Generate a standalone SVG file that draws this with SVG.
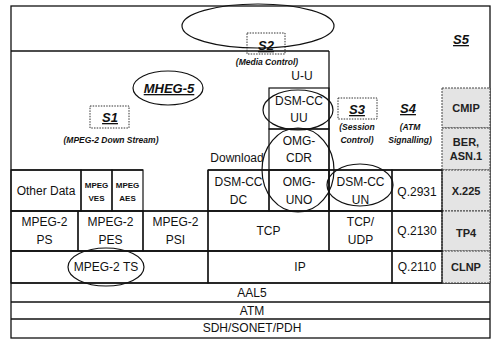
<svg xmlns="http://www.w3.org/2000/svg" width="494" height="347" viewBox="0 0 494 347">
<style>
.ln{stroke:#111;stroke-width:1.3;fill:none}
.box{stroke:#111;stroke-width:1.2;fill:none}
.ell{stroke:#111;stroke-width:1.2;fill:none}
.dash{stroke:#333;stroke-width:1;stroke-dasharray:1.5 1.2;fill:none}
.gray{fill:#e4e4e4;stroke:#444;stroke-width:1;stroke-dasharray:2 1}
.t{font-family:"Liberation Sans",Arial,sans-serif;font-size:12px;fill:#111;text-anchor:middle}
.ts{font-family:"Liberation Sans",Arial,sans-serif;font-size:8px;font-weight:bold;fill:#111;text-anchor:middle}
.tg{font-family:"Liberation Sans",Arial,sans-serif;font-size:11px;font-weight:bold;fill:#222;text-anchor:middle}
.s{font-family:"Liberation Sans",Arial,sans-serif;font-size:13px;font-weight:bold;font-style:italic;fill:#111;text-anchor:middle;text-decoration:underline}
.si{font-family:"Liberation Sans",Arial,sans-serif;font-size:8.5px;font-weight:bold;font-style:italic;fill:#111;text-anchor:middle}
</style>
<rect width="494" height="347" fill="#fff"/>
<g id="frame">
<rect class="ln" x="11" y="6" width="479" height="332"/>
<line class="ln" x1="11" y1="51" x2="329" y2="51"/>
<line class="ln" x1="329" y1="51" x2="329" y2="211"/>
<line class="ln" x1="11" y1="170" x2="143" y2="170"/>
<line class="ln" x1="208" y1="170" x2="442" y2="170"/>
<line class="ln" x1="11" y1="211" x2="442" y2="211"/>
<line class="ln" x1="11" y1="251" x2="442" y2="251"/>
<line class="ln" x1="11" y1="283" x2="490" y2="283"/>
<line class="ln" x1="11" y1="302" x2="490" y2="302"/>
<line class="ln" x1="11" y1="319" x2="490" y2="319"/>
</g>
<g id="gray-column">
<rect class="gray" x="442" y="88" width="48" height="40"/>
<rect class="gray" x="442" y="128" width="48" height="42"/>
<rect class="gray" x="442" y="170" width="48" height="41"/>
<rect class="gray" x="442" y="211" width="48" height="40"/>
<rect class="gray" x="442" y="251" width="48" height="32"/>
<text class="tg" x="466" y="112">CMIP</text>
<text class="tg" x="466" y="146">BER,</text>
<text class="tg" x="466" y="160">ASN.1</text>
<text class="tg" x="466" y="195">X.225</text>
<text class="tg" x="466" y="237">TP4</text>
<text class="tg" x="466" y="271">CLNP</text>
</g>
<g id="other-data"><rect class="box" x="11" y="170" width="70" height="41"/><text class="t" x="46" y="195">Other Data</text></g>
<g id="mpeg-ves"><rect class="box" x="81" y="170" width="31" height="41"/><text class="ts" x="96.5" y="188">MPEG</text><text class="ts" x="96.5" y="201">VES</text></g>
<g id="mpeg-aes"><rect class="box" x="112" y="170" width="31" height="41"/><text class="ts" x="127.5" y="188">MPEG</text><text class="ts" x="127.5" y="201">AES</text></g>
<g id="download"><line class="ln" x1="208" y1="170" x2="208" y2="211"/><text class="t" x="237" y="162">Download</text></g>
<g id="dsmcc-dc"><rect class="box" x="208" y="170" width="61" height="41"/><text class="t" x="238.5" y="186">DSM-CC</text><text class="t" x="238.5" y="204">DC</text></g>
<g id="omg-uno"><rect class="box" x="269" y="170" width="60" height="41"/><text class="t" x="299" y="186">OMG-</text><text class="t" x="299" y="204">UNO</text></g>
<g id="dsmcc-un"><rect class="box" x="329" y="170" width="63" height="41"/><text class="t" x="360.5" y="186">DSM-CC</text><text class="t" x="360.5" y="204">UN</text></g>
<g id="q2931"><rect class="box" x="392" y="170" width="50" height="41"/><text class="t" x="417" y="196">Q.2931</text></g>
<g id="dsmcc-uu"><rect class="box" x="269" y="88" width="60" height="41"/><text class="t" x="299" y="105">DSM-CC</text><text class="t" x="299" y="122">UU</text></g>
<g id="omg-cdr"><rect class="box" x="269" y="129" width="60" height="41"/><text class="t" x="299" y="145">OMG-</text><text class="t" x="299" y="162">CDR</text></g>
<g id="mpeg2-ps"><rect class="box" x="11" y="211" width="67" height="40"/><text class="t" x="44.5" y="226">MPEG-2</text><text class="t" x="44.5" y="244">PS</text></g>
<g id="mpeg2-pes"><rect class="box" x="78" y="211" width="65" height="40"/><text class="t" x="110.5" y="226">MPEG-2</text><text class="t" x="110.5" y="244">PES</text></g>
<g id="mpeg2-psi"><rect class="box" x="143" y="211" width="65" height="40"/><text class="t" x="175.5" y="226">MPEG-2</text><text class="t" x="175.5" y="244">PSI</text></g>
<g id="tcp"><rect class="box" x="208" y="211" width="121" height="40"/><text class="t" x="268.5" y="235">TCP</text></g>
<g id="tcp-udp"><rect class="box" x="329" y="211" width="63" height="40"/><text class="t" x="360.5" y="226">TCP/</text><text class="t" x="360.5" y="244">UDP</text></g>
<g id="q2130"><rect class="box" x="392" y="211" width="50" height="40"/><text class="t" x="417" y="235">Q.2130</text></g>
<g id="mpeg2-ts"><rect class="box" x="11" y="251" width="197" height="32"/><text class="t" x="106" y="271">MPEG-2 TS</text></g>
<g id="ip"><rect class="box" x="208" y="251" width="184" height="32"/><text class="t" x="300" y="271">IP</text></g>
<g id="q2110"><rect class="box" x="392" y="251" width="50" height="32"/><text class="t" x="417" y="271">Q.2110</text></g>
<g id="aal5"><text class="t" x="252" y="297">AAL5</text></g>
<g id="atm"><text class="t" x="252" y="314.5">ATM</text></g>
<g id="sdh"><text class="t" x="252" y="332">SDH/SONET/PDH</text></g>
<g id="u-u"><text class="t" x="302" y="80">U-U</text></g>
<g id="s1"><rect class="dash" x="90" y="106" width="39" height="22"/><text class="s" x="110" y="122">S1</text><text class="si" x="111" y="143">(MPEG-2 Down Stream)</text></g>
<g id="s2"><rect class="dash" x="247" y="33" width="38" height="21"/><text class="s" x="266" y="50">S2</text><text class="si" x="267" y="65">(Media Control)</text></g>
<g id="s3"><rect class="dash" x="338" y="98" width="39" height="21"/><text class="s" x="357" y="114">S3</text><text class="si" x="357" y="130">(Session</text><text class="si" x="357" y="143">Control)</text></g>
<g id="s4"><text class="s" x="408" y="113">S4</text><text class="si" x="410" y="130">(ATM</text><text class="si" x="410" y="143">Signalling)</text></g>
<g id="s5"><text class="s" x="461" y="44">S5</text></g>
<g id="mheg5"><ellipse class="ell" cx="168" cy="88" rx="35" ry="17"/><text class="s" x="169" y="93">MHEG-5</text></g>
<g id="ellipses">
<ellipse class="ell" cx="258" cy="26" rx="76" ry="22"/>
<ellipse class="ell" cx="298" cy="110" rx="35" ry="20"/>
<ellipse class="ell" cx="298" cy="170" rx="36" ry="42"/>
<ellipse class="ell" cx="360" cy="185" rx="33" ry="21"/>
<ellipse class="ell" cx="106" cy="267" rx="38" ry="19"/>
</g>
</svg>
